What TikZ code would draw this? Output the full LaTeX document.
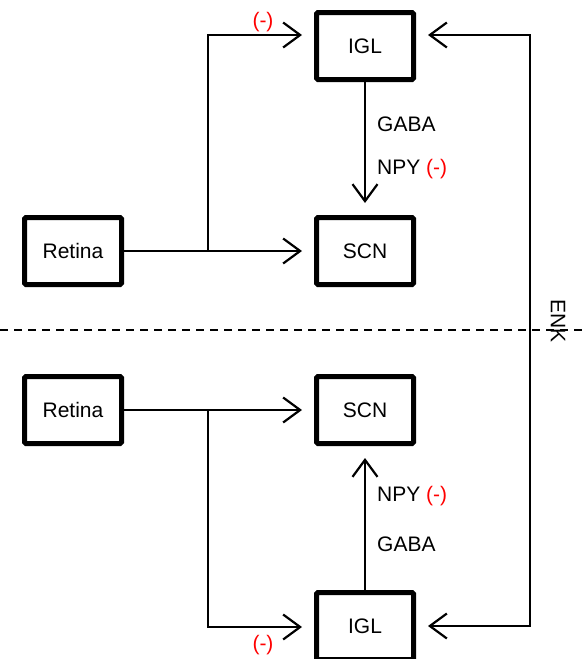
\documentclass[tikz,border=0pt]{standalone}
\usepackage{fontspec}
\setmainfont{Liberation Sans}
\usetikzlibrary{arrows.meta}
\begin{document}
\begin{tikzpicture}[x=1pt,y=-1pt,
  box/.style={draw, line width=5pt, rounded corners=1.5pt, minimum width=97pt, minimum height=67pt, inner sep=0pt, font=\fontsize{21}{24}\selectfont},
  conn/.style={line width=2.2pt},
  tip/.style={conn, -{Straight Barb[length=17pt,width=25pt,line width=2.2pt]}, shorten >=12pt},
  lbl/.style={font=\fontsize{21}{24}\selectfont, inner sep=0pt},
  neg/.style={lbl, text=red}]
\useasboundingbox (0,0) rectangle (586,659);
% nodes
\node[box] (igl1) at (365,46) {IGL};
\node[box] (scn1) at (365,251) {SCN};
\node[box] (ret1) at (73,251) {Retina};
\node[box] (ret2) at (73,410) {Retina};
\node[box] (scn2) at (365,410) {SCN};
\node[box] (igl2) at (365,626) {IGL};
% junctions
\coordinate (b1) at (208,251);
\coordinate (j1) at (208,35);
\coordinate (b2) at (208,410);
\coordinate (j2) at (208,627);
\coordinate (r1) at (530,35);
\coordinate (r2) at (530,626);
% top half
\draw[tip] (ret1.east) -- (scn1.west);
\draw[tip] (b1) -- (j1) -- (igl1.west |- j1);
\draw[tip] (igl1.south) -- (scn1.north);
% bottom half
\draw[tip] (ret2.east) -- (scn2.west);
\draw[tip] (b2) -- (j2) -- (igl2.west |- j2);
\draw[tip] (igl2.north) -- (scn2.south);
% right ENK line
\draw[conn, {Straight Barb[length=17pt,width=25pt,line width=2.2pt]}-{Straight Barb[length=17pt,width=25pt,line width=2.2pt]}, shorten <=12pt, shorten >=12pt]
  (igl1.east |- r1) -- (r1) -- (r2) -- (igl2.east |- r2);
% dashed separator
\coordinate (d1) at (0,330);
\coordinate (d2) at (586,330);
\draw[line width=1.2pt, dash pattern=on 8pt off 6pt] (d1) -- (d2);
% labels
\node[neg] (m1) at (263,22) {(-)};
\node[neg] (m2) at (263,645) {(-)};
\node[lbl, anchor=west] (g1) at (377,124) {GABA};
\node[lbl, anchor=west] (n1) at (377,169) {NPY \textcolor{red}{(-)}};
\node[lbl, anchor=west] (n2) at (377,496) {NPY \textcolor{red}{(-)}};
\node[lbl, anchor=west] (g2) at (377,544) {GABA};
\node[lbl, rotate=-90] (enk) at (558,321) {ENK};
\end{tikzpicture}
\end{document}
